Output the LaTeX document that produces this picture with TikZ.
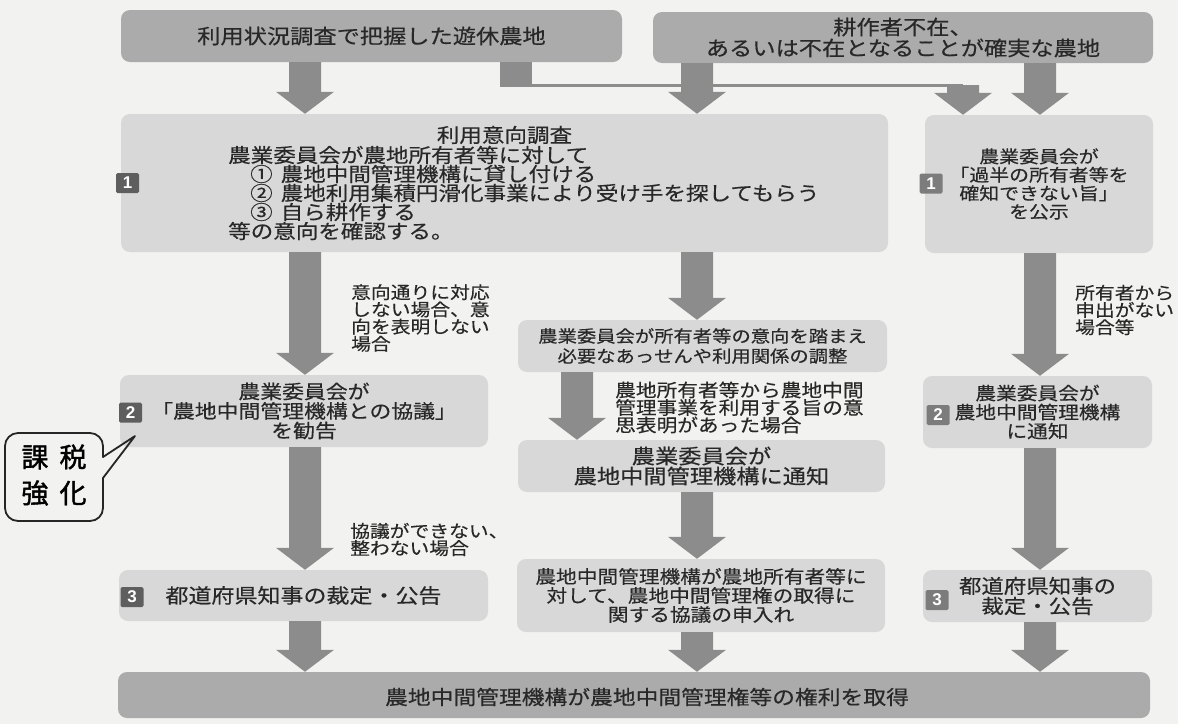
\documentclass[tikz,border=0pt]{standalone}
\usepackage{fontspec}
\setmainfont{Noto Sans CJK JP}[FakeStretch=1.15, FakeBold=0.4]
\newfontfamily\calfont{Noto Sans CJK JP}[FakeBold=1.5]
\newfontfamily\bdgfont{Liberation Sans}
\usetikzlibrary{calc}
\definecolor{bgc}{HTML}{F2F2F0}
\definecolor{darkc}{HTML}{ABABAB}
\definecolor{lightc}{HTML}{D8D8D8}
\definecolor{arrowc}{HTML}{8C8C8C}
\definecolor{txtc}{HTML}{282828}
\definecolor{badgec}{HTML}{5E5E5E}
\definecolor{badgeb}{HTML}{7C7C7C}
\newcommand\fs[2]{\fontsize{#1pt}{#2pt}\selectfont\lineskiplimit=-50pt\lineskip=0pt}
\newcommand\calfs{\calfont\fontsize{27pt}{36pt}\selectfont\lineskiplimit=-50pt\lineskip=0pt}
\newcommand\blockarrow[2]{%
  \fill[arrowc] let \p1=(#1), \p2=(#2) in
    (\x1-16pt,\y1) -- (\x1+16pt,\y1) -- (\x1+16pt,\y2+22pt) -- (\x1+29pt,\y2+22pt)
    -- (\x1,\y2) -- (\x1-29pt,\y2+22pt) -- (\x1-16pt,\y2+22pt) -- cycle;}
\tikzset{
  box/.style={rounded corners=9pt, inner sep=0pt, align=center, text=txtc},
  darkbox/.style={box, fill=darkc},
  lightbox/.style={box, fill=lightc},
  lbl/.style={inner sep=0pt, align=left, anchor=west, text=txtc, font=\fs{17.2}{17.2}},
  line/.style={inner sep=0pt, anchor=west, text=txtc, font=\fs{19.6}{19}},
  badge/.style={fill=badgec, text=white, font=\bdgfont\bfseries\fontsize{17pt}{17pt}\selectfont,
    minimum width=23pt, minimum height=20pt, inner sep=0pt, rounded corners=1.5pt},
  callout/.style={draw=black!85, line width=1.8pt, line join=round, line cap=round}
}
\begin{document}
\begin{tikzpicture}[x=1pt,y=-1pt]
\useasboundingbox (0,0) rectangle (1178,724);
\fill[bgc] (0,0) rectangle (1178,724);

% column coordinates
\coordinate (cl) at (305,0);
\coordinate (cm) at (697,0);
\coordinate (cmm) at (577,0);
\coordinate (cr) at (1040,0);
\coordinate (cx1) at (516,0);
\coordinate (cx2) at (963,0);
\coordinate (ly) at (0,85);

% top boxes
\node[darkbox, minimum width=501, minimum height=52, font=\fs{20.2}{20}] (t1) at (371.5,36) {利用状況調査で把握した遊休農地};
\node[darkbox, minimum width=500, minimum height=51, font=\fs{20.2}{21}] (t2) at (903,37.5) {耕作者不在、\\あるいは不在となることが確実な農地};

% row 1
\node[lightbox, minimum width=767, minimum height=138] (b1) at (504.5,183) {};
\node[inner sep=0pt, text=txtc, font=\fs{19.6}{19}] (b1t) at (504.5,135) {利用意向調査};
\node[line] (b1a) at (228,155) {農業委員会が農地所有者等に対して};
\node[line] (b1b) at (250,174) {①\hspace{8pt}農地中間管理機構に貸し付ける};
\node[line] (b1c) at (250,193) {②\hspace{8pt}農地利用集積円滑化事業により受け手を探してもらう};
\node[line] (b1d) at (250,212) {③\hspace{8pt}自ら耕作する};
\node[line] (b1e) at (228,231) {等の意向を確認する。};
\node[lightbox, minimum width=228, minimum height=138, font=\fs{17.3}{18.4}] (r1) at (1039,184) {農業委員会が\\「過半の所有者等を\\確知できない旨」\\を公示};

% row 2
\node[lightbox, minimum width=368, minimum height=72, font=\fs{19}{19.5}] (l2) at (304,411) {農業委員会が\\「農地中間管理機構との協議」\\を勧告};
\node[lightbox, minimum width=369, minimum height=52, font=\fs{16.8}{20}] (m1) at (702.5,346) {農業委員会が所有者等の意向を踏まえ\\必要なあっせんや利用関係の調整};
\node[lightbox, minimum width=367, minimum height=52, font=\fs{20.2}{20}] (m2) at (701.5,466) {農業委員会が\\農地中間管理機構に通知};
\node[lightbox, minimum width=229, minimum height=72, font=\fs{18}{19}] (r2) at (1037.5,412) {農業委員会が\\農地中間管理機構\\に通知};

% row 3
\node[lightbox, minimum width=369, minimum height=51, font=\fs{20}{20}] (l3) at (303.5,595.5) {都道府県知事の裁定・公告};
\node[lightbox, minimum width=368, minimum height=73, font=\fs{18}{19}] (m3) at (701,595.5) {農地中間管理機構が農地所有者等に\\対して、農地中間管理権の取得に\\関する協議の申入れ};
\node[lightbox, minimum width=229, minimum height=52, font=\fs{19.5}{20}] (r3) at (1037.5,596) {都道府県知事の\\裁定・公告};

% bottom
\node[darkbox, minimum width=1032, minimum height=46] (bt) at (634,695) {};
\node[inner sep=0pt, text=txtc, font=\fs{19.8}{20}] (btt) at (647,697) {農地中間管理機構が農地中間管理権等の権利を取得};

% labels
\node[lbl] (lb1) at (351,318) {意向通りに対応\\しない場合、意\\向を表明しない\\場合};
\node[lbl] (lb2) at (350,539.5) {協議ができない、\\整わない場合};
\node[lbl, font=\fs{18}{17.5}] (lb3) at (615,407.5) {農地所有者等から農地中間\\管理事業を利用する旨の意\\思表明があった場合};
\node[lbl] (lb4) at (1075,310) {所有者から\\申出がない\\場合等};

% badges
\node[badge] (bg1) at (127.5,183) {1};
\node[badge, fill=badgeb] (bg2) at (931,183.5) {1};
\node[badge] (bg3) at (130.5,412.5) {2};
\node[badge, fill=badgeb] (bg4) at (938,415) {2};
\node[badge] (bg5) at (132,597) {3};
\node[badge, fill=badgeb] (bg6) at (937,600) {3};

% arrows
\blockarrow{t1.south -| cl}{b1.north -| cl}
\blockarrow{t2.south -| cm}{b1.north -| cm}
\blockarrow{t2.south -| cr}{r1.north -| cr}
\blockarrow{b1.south -| cl}{l2.north -| cl}
\blockarrow{l2.south -| cl}{l3.north -| cl}
\blockarrow{l3.south -| cl}{bt.north -| cl}
\blockarrow{b1.south -| cm}{m1.north -| cm}
\blockarrow{m1.south -| cmm}{m2.north -| cmm}
\blockarrow{m2.south -| cm}{m3.north -| cm}
\blockarrow{m3.south -| cm}{bt.north -| cm}
\blockarrow{r1.south -| cr}{r2.north -| cr}
\blockarrow{r2.south -| cr}{r3.north -| cr}
\blockarrow{r3.south -| cr}{bt.north -| cr}

% connector from t1 to r1
\fill[arrowc] let \p1=(t1.south -| cx1), \p2=(ly -| cx1) in (\x1-16pt,\y1) rectangle (\x1+16pt,\y2-1.5pt);
\draw[arrowc, line width=3pt] (ly -| cx1) -- (ly -| cx2);
\blockarrow{ly -| cx2}{r1.north -| cx2}

% callout
\node[inner sep=0pt, align=center, text=black, font=\calfs] (co) at (54,475) {課\hspace{11pt}税\\強\hspace{11pt}化};
\coordinate (tip) at (135,436);
\draw[callout] (103,457) -- (tip) -- (103,478) [rounded corners=13pt] -- (103,521) -- (5,521) -- (5,433) -- (103,433) -- (103,457);
\end{tikzpicture}
\end{document}
